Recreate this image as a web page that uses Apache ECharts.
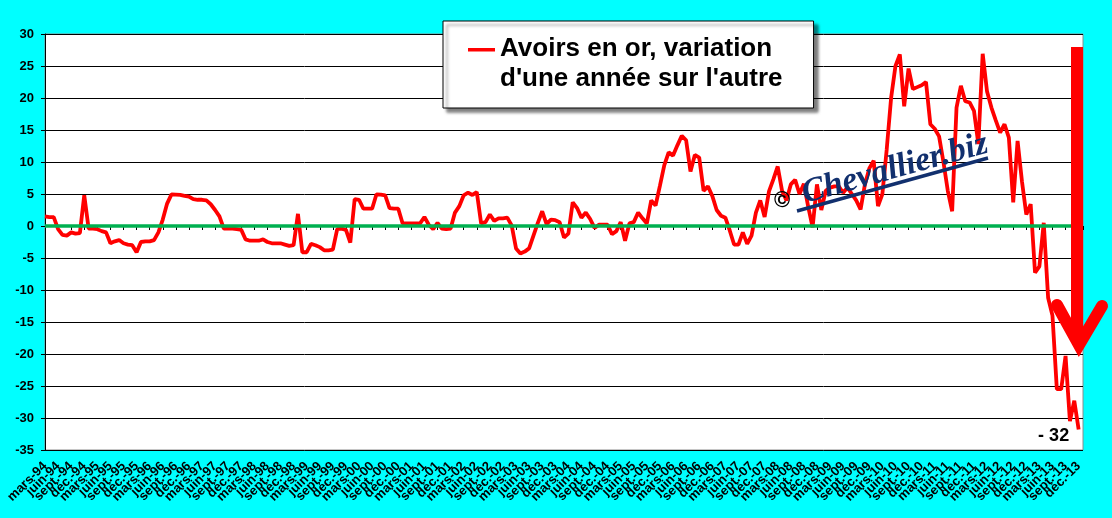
<!DOCTYPE html>
<html>
<head>
<meta charset="utf-8">
<script src="https://cdn.jsdelivr.net/npm/echarts@6/dist/echarts.min.js"></script>
<style>
html,body{margin:0;padding:0;background:#00FFFF;}
#chart{width:1112px;height:518px;}
</style>
</head>
<body>
<div id="chart"></div>
<script>
// ---- data ----
const monthNames = ['janv.','févr.','mars','avr.','mai','juin','juil.','août','sept.','oct.','nov.','déc.'];
const startYear = 1994, startMonth = 2;   // mars-94
const endYear = 2013, endMonth = 11;      // déc.-13
const labelEvery = 3;                     // one label per quarter
const seriesName = "Avoirs en or, variation\nd'une année sur l'autre";
const values = [
  1.5, 1.4, 1.4, -0.5, -1.4, -1.5, -1.0, -1.2, -1.1, 4.8, -0.4, -0.4,
  -0.5, -0.8, -1.0, -2.7, -2.4, -2.2, -2.7, -2.9, -3.0, -4.1, -2.5, -2.4,
  -2.4, -2.2, -1.0, 1.0, 3.5, 4.95, 4.9, 4.85, 4.7, 4.6, 4.2, 4.1,
  4.1, 4.0, 3.4, 2.5, 1.5, -0.4, -0.4, -0.4, -0.5, -0.6, -2.1, -2.3,
  -2.3, -2.3, -2.1, -2.5, -2.7, -2.7, -2.7, -2.9, -3.1, -3.0, 1.9, -4.1,
  -4.1, -2.8, -3.0, -3.3, -3.8, -3.8, -3.7, -0.5, -0.4, -0.6, -2.6, 4.2,
  4.1, 2.7, 2.7, 2.7, 4.95, 4.9, 4.8, 2.8, 2.7, 2.7, 0.4, 0.4,
  0.4, 0.4, 0.4, 1.4, 0.2, -0.5, 0.5, -0.4, -0.5, -0.4, 2.1, 3.1,
  4.8, 5.2, 4.85, 5.3, 0.4, 0.6, 1.8, 0.8, 1.2, 1.2, 1.3, 0.1,
  -3.5, -4.3, -4.0, -3.5, -1.5, 0.5, 2.3, 0.3, 1.0, 0.9, 0.6, -1.8,
  -1.2, 3.7, 2.8, 1.3, 2.1, 1.1, -0.3, 0.2, 0.2, 0.2, -1.3, -0.8,
  0.6, -2.3, 0.4, 0.6, 2.1, 1.2, 0.4, 4.0, 3.2, 6.3, 9.5, 11.5,
  11.0, 12.6, 14.1, 13.4, 8.5, 11.1, 10.7, 5.5, 6.2, 4.7, 2.5, 1.6,
  1.3, -0.7, -2.9, -2.9, -1.0, -2.8, -1.5, 2.1, 4.0, 1.4, 5.4, 7.3,
  9.3, 5.5, 4.0, 6.5, 7.2, 5.0, 6.6, 3.0, -0.2, 6.5, 2.5, 5.5,
  6.0, 6.2, 6.2, 5.2, 6.0, 5.0, 4.0, 2.6, 6.5, 9.0, 10.2, 3.1,
  5.0, 12.0, 20.0, 25.0, 26.8, 18.7, 24.6, 21.4, 21.7, 22.0, 22.5, 15.9,
  15.2, 14.0, 10.0, 5.5, 2.3, 18.5, 21.9, 19.5, 19.3, 18.0, 12.8, 26.9,
  21.0, 18.5, 16.5, 14.6, 15.9, 13.8, 3.7, 13.3, 7.0, 1.8, 3.4, -7.3,
  -6.3, 0.5, -11.2, -14.0, -25.5, -25.5, -20.3, -30.5, -27.3, -31.8
];
const lastLabel = '- 32';
const yMin = -35, yMax = 30, yStep = 5;

// ---- categories ----
const categories = [];
for (let y = startYear, m = startMonth; y < endYear || (y === endYear && m <= endMonth); ) {
  categories.push(monthNames[m] + '-' + String(y % 100).padStart(2, '0'));
  m++; if (m > 11) { m = 0; y++; }
}

const FONT = 'Arial, "Liberation Sans", sans-serif';
const chart = echarts.init(document.getElementById('chart'), null, {renderer: 'canvas'});

chart.setOption({
  backgroundColor: '#00FFFF',
  animation: false,
  grid: {
    left: 45, right: 29, top: 34, bottom: 68,
    show: true, backgroundColor: '#FFFFFF', borderColor: '#8C8C8C', borderWidth: 1
  },
  legend: {
    left: 443, top: 21,
    padding: [13, 31, 14, 25],
    backgroundColor: '#FFFFFF', borderColor: '#000000', borderWidth: 1,
    shadowColor: 'rgba(0,0,0,0.5)', shadowBlur: 3, shadowOffsetX: 4, shadowOffsetY: 4,
    itemWidth: 27, itemHeight: 32,
    icon: 'path://M0,0H27V3.5H0Z M0,31.99H0.01V32H0Z',
    itemStyle: {borderWidth: 0},
    selectedMode: false,
    textStyle: {fontFamily: FONT, fontWeight: 'bold', fontSize: 26, lineHeight: 30, color: '#000'},
    data: [seriesName]
  },
  xAxis: {
    type: 'category',
    data: categories,
    boundaryGap: false,
    max: categories.length,
    axisLine: {lineStyle: {color: '#000', width: 1}},
    axisTick: {show: true, interval: labelEvery - 1, length: 4, lineStyle: {color: '#000'}},
    axisLabel: {
      interval: 0, rotate: 45, margin: 14,
      formatter: function (v, idx) {
        return (idx % labelEvery === 0 && idx < categories.length) ? v : '';
      },
      fontFamily: FONT, fontWeight: 'bold', fontSize: 13, color: '#000'
    },
    splitLine: {show: false}
  },
  yAxis: {
    type: 'value',
    min: yMin, max: yMax, interval: yStep,
    axisLine: {show: true, lineStyle: {color: '#000', width: 1}},
    axisTick: {show: true, length: 4, lineStyle: {color: '#000'}},
    axisLabel: {margin: 11, fontFamily: FONT, fontWeight: 'bold', fontSize: 13, color: '#000'},
    splitLine: {show: true, lineStyle: {color: '#000', width: 1}}
  },
  series: [{
    name: seriesName,
    type: 'line',
    data: values,
    showSymbol: false,
    symbol: 'none',
    lineStyle: {color: '#FF0000', width: 3.8},
    itemStyle: {color: '#FF0000'},
    z: 3,
    markLine: {
      silent: true, symbol: 'none', animation: false,
      label: {show: false},
      lineStyle: {color: '#00B050', width: 3.5, type: 'solid'},
      data: [{yAxis: 0}]
    },
    markPoint: {
      silent: true, animation: false,
      symbol: 'circle', symbolSize: 1,
      itemStyle: {color: 'rgba(0,0,0,0)'},
      label: {
        show: true, position: 'left', distance: 9, offset: [0, 7],
        formatter: lastLabel,
        fontFamily: FONT, fontWeight: 'bold', fontSize: 18, color: '#000'
      },
      data: [{coord: [categories[values.length - 1], values[values.length - 1]]}]
    }
  }],
  graphic: [
    // watermark
    {
      type: 'text', x: 782, y: 201, z: 50,
      style: {text: '©', fontSize: 22, fontWeight: 'bold', fontFamily: FONT, fill: '#000',
              align: 'center', verticalAlign: 'middle'}
    },
    {
      type: 'text', x: 895, y: 169, rotation: 0.27, z: 50,
      style: {text: 'Chevallier.biz', fontSize: 34, fontStyle: 'italic', fontWeight: 'bold',
              fontFamily: '"Liberation Serif", "DejaVu Serif", serif', fill: '#12306E',
              align: 'center', verticalAlign: 'middle'}
    },
    {
      type: 'line', z: 50,
      shape: {x1: 797, y1: 211, x2: 988, y2: 158},
      style: {stroke: '#12306E', lineWidth: 3.5}
    },
    // big arrow
    {
      type: 'rect', z: 60,
      shape: {x: 1071, y: 47, width: 12, height: 292},
      style: {fill: '#FF0000'}
    },
    {
      type: 'polyline', z: 60,
      shape: {points: [[1057, 305], [1079, 345], [1102, 306]]},
      style: {stroke: '#FF0000', lineWidth: 12, lineJoin: 'miter', lineCap: 'round', fill: null}
    }
  ]
});
</script>
</body>
</html>
